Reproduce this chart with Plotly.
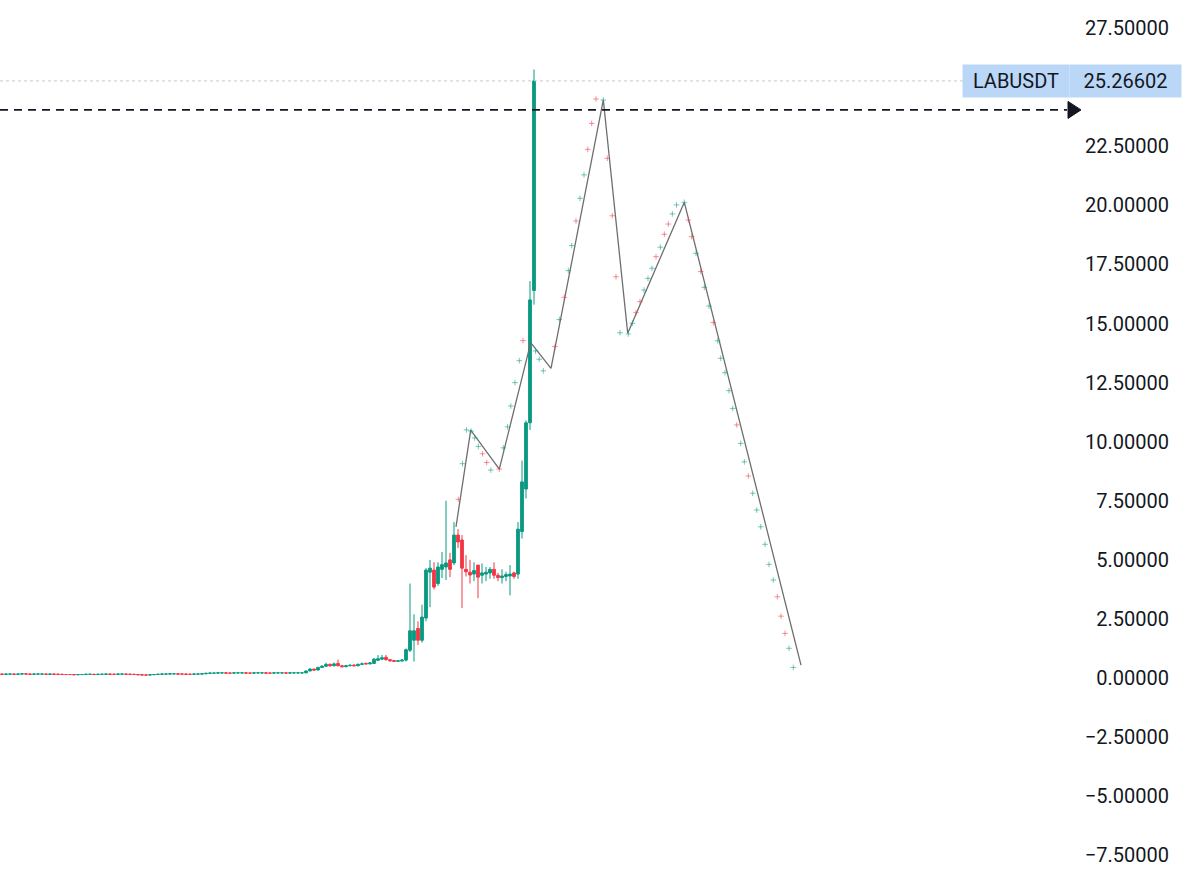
import plotly.graph_objects as go

# ---------------- candle data (index = bar number) ----------------
opens = [
    0.17, 0.16, 0.17, 0.17, 0.16, 0.17, 0.18, 0.17, 0.16, 0.17,
    0.17, 0.17, 0.16, 0.17, 0.16, 0.16, 0.15, 0.15, 0.15, 0.14,
    0.15, 0.15, 0.16, 0.16, 0.15, 0.16, 0.16, 0.17, 0.16, 0.16,
    0.17, 0.17, 0.16, 0.16, 0.15, 0.14, 0.13, 0.13, 0.14, 0.15,
    0.16, 0.17, 0.17, 0.18, 0.18, 0.17, 0.17, 0.16, 0.16, 0.17,
    0.17, 0.18, 0.20, 0.21, 0.21, 0.22, 0.22, 0.21, 0.21, 0.22,
    0.22, 0.22, 0.21, 0.21, 0.22, 0.22, 0.22, 0.21, 0.21, 0.22,
    0.22, 0.22, 0.21, 0.22, 0.22, 0.22, 0.22, 0.30, 0.38, 0.34,
    0.45, 0.50, 0.58, 0.52, 0.62, 0.52, 0.48, 0.52, 0.55, 0.52,
    0.58, 0.62, 0.60, 0.62, 0.75, 0.80, 0.88, 0.78, 0.74, 0.71,
    0.72, 0.76, 1.18, 1.60, 2.10, 1.60, 2.54, 4.48, 4.57, 4.00,
    4.60, 4.70, 5.00, 4.87, 6.05, 5.84, 4.60, 4.48, 4.40, 4.78,
    4.35, 4.40, 4.45, 4.60, 4.35, 4.25, 4.30, 4.32, 4.45, 4.40,
    6.20, 8.00, 10.80, 16.40,
]
highs = [
    0.19, 0.19, 0.19, 0.19, 0.19, 0.20, 0.20, 0.19, 0.19, 0.19,
    0.19, 0.19, 0.19, 0.19, 0.18, 0.18, 0.17, 0.17, 0.17, 0.17,
    0.17, 0.18, 0.18, 0.18, 0.18, 0.18, 0.19, 0.19, 0.18, 0.19,
    0.19, 0.19, 0.18, 0.18, 0.17, 0.16, 0.15, 0.16, 0.17, 0.18,
    0.19, 0.19, 0.20, 0.20, 0.20, 0.19, 0.19, 0.18, 0.19, 0.19,
    0.20, 0.22, 0.23, 0.23, 0.24, 0.24, 0.24, 0.23, 0.24, 0.24,
    0.24, 0.24, 0.23, 0.24, 0.24, 0.24, 0.24, 0.23, 0.24, 0.24,
    0.24, 0.23, 0.24, 0.24, 0.24, 0.24, 0.32, 0.42, 0.40, 0.48,
    0.55, 0.65, 0.62, 0.66, 0.78, 0.56, 0.56, 0.58, 0.58, 0.62,
    0.66, 0.66, 0.68, 0.85, 0.97, 0.98, 0.98, 0.80, 0.76, 0.76,
    0.80, 1.25, 4.00, 2.70, 2.40, 3.10, 4.65, 5.00, 4.90, 4.90,
    5.33, 7.50, 5.30, 6.60, 6.30, 6.05, 5.20, 5.00, 4.90, 4.78,
    4.85, 4.70, 4.70, 4.90, 4.45, 4.60, 4.50, 4.78, 4.50, 6.60,
    9.20, 10.90, 16.80, 25.75,
]
lows = [
    0.15, 0.15, 0.16, 0.15, 0.15, 0.16, 0.16, 0.15, 0.15, 0.16,
    0.15, 0.15, 0.15, 0.15, 0.14, 0.14, 0.13, 0.13, 0.13, 0.13,
    0.13, 0.14, 0.14, 0.14, 0.14, 0.14, 0.15, 0.15, 0.14, 0.15,
    0.15, 0.15, 0.14, 0.14, 0.13, 0.12, 0.12, 0.12, 0.13, 0.14,
    0.15, 0.16, 0.16, 0.17, 0.16, 0.16, 0.15, 0.15, 0.15, 0.16,
    0.16, 0.17, 0.19, 0.20, 0.20, 0.21, 0.20, 0.20, 0.20, 0.21,
    0.21, 0.20, 0.20, 0.20, 0.21, 0.21, 0.20, 0.20, 0.20, 0.21,
    0.21, 0.20, 0.20, 0.21, 0.21, 0.21, 0.21, 0.29, 0.32, 0.33,
    0.43, 0.48, 0.48, 0.50, 0.50, 0.46, 0.46, 0.50, 0.50, 0.50,
    0.56, 0.58, 0.58, 0.60, 0.72, 0.76, 0.74, 0.70, 0.68, 0.69,
    0.70, 0.70, 1.10, 0.70, 1.40, 1.50, 2.40, 3.00, 3.75, 3.90,
    4.23, 4.15, 4.27, 4.78, 5.50, 2.96, 4.30, 4.00, 4.10, 3.38,
    4.00, 4.10, 4.20, 4.20, 4.10, 4.00, 4.10, 3.50, 4.20, 4.20,
    5.90, 7.60, 10.50, 15.80,
]
closes = [
    0.16, 0.17, 0.17, 0.16, 0.17, 0.18, 0.17, 0.16, 0.17, 0.17,
    0.17, 0.16, 0.17, 0.16, 0.16, 0.15, 0.15, 0.15, 0.14, 0.15,
    0.15, 0.16, 0.16, 0.15, 0.16, 0.16, 0.17, 0.16, 0.16, 0.17,
    0.17, 0.16, 0.16, 0.15, 0.14, 0.13, 0.13, 0.14, 0.15, 0.16,
    0.17, 0.17, 0.18, 0.18, 0.17, 0.17, 0.16, 0.16, 0.17, 0.17,
    0.18, 0.20, 0.21, 0.21, 0.22, 0.22, 0.21, 0.21, 0.22, 0.22,
    0.22, 0.21, 0.21, 0.22, 0.22, 0.22, 0.21, 0.21, 0.22, 0.22,
    0.22, 0.21, 0.22, 0.22, 0.22, 0.22, 0.30, 0.38, 0.34, 0.45,
    0.50, 0.58, 0.52, 0.60, 0.52, 0.48, 0.52, 0.54, 0.52, 0.58,
    0.60, 0.60, 0.64, 0.80, 0.82, 0.86, 0.78, 0.73, 0.71, 0.73,
    0.76, 1.20, 2.00, 2.00, 1.60, 2.58, 4.57, 4.65, 3.85, 4.70,
    4.80, 4.87, 4.60, 6.05, 5.76, 4.65, 4.50, 4.36, 4.55, 4.27,
    4.45, 4.48, 4.60, 4.35, 4.25, 4.32, 4.38, 4.40, 4.30, 6.30,
    8.30, 10.80, 16.00, 25.26602,
]
bar_index = list(range(len(closes)))

# ---------------- projected path (bars pattern) ----------------
path_x = [113.5, 117.18, 124.33, 132.18, 137.25, 150.33, 156.43, 170.58, 199.75]
path_y = [6.40, 10.49, 8.84, 14.19, 13.10, 24.46, 14.59, 20.13, 0.55]

proj_x = [
    114.08, 115.13, 116.13, 117.25, 118.18, 119.08, 120.13, 121.18, 122.20, 124.33,
    125.33, 126.38, 127.20, 128.25, 129.33, 130.25, 133.38, 134.30, 135.33, 138.25,
    139.33, 140.58, 141.58, 142.43, 143.50, 144.50, 145.50, 146.43, 147.43, 148.50,
    150.33, 151.33, 152.58, 153.50, 154.50, 156.58, 157.58, 158.50, 159.50, 160.50,
    161.50, 162.50, 163.50, 164.58, 165.58, 166.58, 167.58, 168.63, 170.58, 171.58,
    172.43, 173.50, 174.68, 175.58, 176.75, 177.83, 178.93, 179.68, 180.75, 181.75,
    182.68, 183.68, 184.68, 185.58, 186.58, 187.68, 188.68, 189.68, 190.75, 191.75,
    192.83, 193.83, 194.75, 195.75, 196.75, 197.83,
]
proj_y = [
    7.56, 9.07, 10.50, 10.45, 10.16, 9.80, 9.49, 9.12, 8.80, 8.84,
    9.74, 10.63, 11.51, 12.50, 13.43, 14.28, 13.84, 13.49, 13.00, 14.03,
    15.17, 16.11, 17.24, 18.30, 19.34, 20.30, 21.29, 22.37, 23.47, 24.50,
    24.46, 21.99, 19.56, 16.98, 14.61, 14.56, 15.01, 15.46, 15.93, 16.42,
    16.91, 17.34, 17.83, 18.23, 18.78, 19.21, 19.64, 20.02, 20.13, 19.38,
    18.68, 17.97, 17.20, 16.53, 15.74, 15.04, 14.27, 13.53, 12.92, 12.16,
    11.41, 10.71, 9.93, 9.15, 8.55, 7.82, 7.11, 6.40, 5.66, 4.81,
    4.15, 3.44, 2.62, 1.89, 1.26, 0.45,
]
proj_dir = [
    "d", "u", "u", "u", "u", "u", "d", "d", "u", "d",
    "u", "u", "u", "u", "u", "d", "u", "u", "u", "d",
    "u", "d", "u", "u", "d", "u", "u", "d", "d", "d",
    "u", "d", "d", "d", "u", "u", "u", "d", "d", "u",
    "u", "u", "d", "u", "d", "d", "u", "u", "u", "d",
    "d", "u", "d", "u", "u", "d", "u", "u", "u", "u",
    "u", "d", "u", "u", "d", "u", "u", "u", "u", "u",
    "u", "d", "d", "d", "u", "u",
]

# ---------------- axis / labels ----------------
tick_vals = [27.5, 22.5, 20.0, 17.5, 15.0, 12.5, 10.0, 7.5, 5.0, 2.5, 0.0, -2.5, -5.0, -7.5]
tick_text = ["27.50000", "22.50000", "20.00000", "17.50000", "15.00000", "12.50000",
             "10.00000", "7.50000", "5.00000", "2.50000", "0.00000",
             "\u22122.50000", "\u22125.00000", "\u22127.50000"]
symbol_name = "LABUSDT"
last_price = 25.26602
alert_level = 24.04

UP = "#089981"
DOWN = "#f23645"

fig = go.Figure()
fig.add_trace(go.Candlestick(
    x=bar_index, open=opens, high=highs, low=lows, close=closes,
    increasing=dict(line=dict(color=UP, width=1), fillcolor=UP),
    decreasing=dict(line=dict(color=DOWN, width=1), fillcolor=DOWN),
    whiskerwidth=0, showlegend=False, hoverinfo="skip",
))
fig.add_trace(go.Scatter(
    x=path_x, y=path_y, mode="lines",
    line=dict(color="#6e6e6e", width=1.3), showlegend=False, hoverinfo="skip",
))
fig.add_trace(go.Scatter(
    x=proj_x, y=proj_y, mode="markers",
    marker=dict(symbol="cross-thin", size=4,
                line=dict(width=1,
                          color=["rgba(8,153,129,0.55)" if d == "u" else "rgba(242,54,69,0.55)"
                                 for d in proj_dir])),
    showlegend=False, hoverinfo="skip",
))

W_PLOT = 1172.0
fig.add_shape(type="line", xref="paper", yref="y", x0=0, x1=963 / W_PLOT,
              y0=last_price, y1=last_price, line=dict(color="#c9c9c9", width=1, dash="dot"))
fig.add_shape(type="line", xref="paper", yref="y", x0=0, x1=1067 / W_PLOT,
              y0=alert_level, y1=alert_level, line=dict(color="#131722", width=1.6, dash="8px,6px"))
xa, xb = 1068 / W_PLOT, 1081 / W_PLOT
fig.add_shape(type="path", xref="paper", yref="y",
              path=f"M {xa},{alert_level + 0.36} L {xb},{alert_level} L {xa},{alert_level - 0.36} Z",
              fillcolor="#131722", line=dict(color="#131722", width=1))

fig.add_annotation(xref="paper", yref="y", x=1015.5 / W_PLOT, y=last_price, text=symbol_name,
                   showarrow=False, width=104, height=30, bgcolor="#bbd7f7",
                   font=dict(family="Roboto", size=20, color="#131722"), xanchor="center")
fig.add_annotation(xref="paper", yref="y", x=1125 / W_PLOT, y=last_price, text=f"{last_price:.5f}",
                   showarrow=False, width=109, height=30, bgcolor="#bbd7f7",
                   font=dict(family="Roboto", size=20, color="#131722"), xanchor="center")

fig.update_layout(
    width=1200, height=874,
    margin=dict(l=0, r=28, t=0, b=0),
    paper_bgcolor="white", plot_bgcolor="white",
    boxgap=0.02,
    xaxis=dict(visible=False, range=[-0.5, -0.5 + W_PLOT / 4], rangeslider=dict(visible=False)),
    yaxis=dict(side="right", range=[-8.29, 28.69], tickmode="array",
               tickvals=tick_vals, ticktext=tick_text, ticklabelposition="inside",
               showgrid=False, zeroline=False, showline=False, ticks="",
               tickfont=dict(family="Roboto", size=20, color="#131722")),
)

fig.write_html("out.html")
